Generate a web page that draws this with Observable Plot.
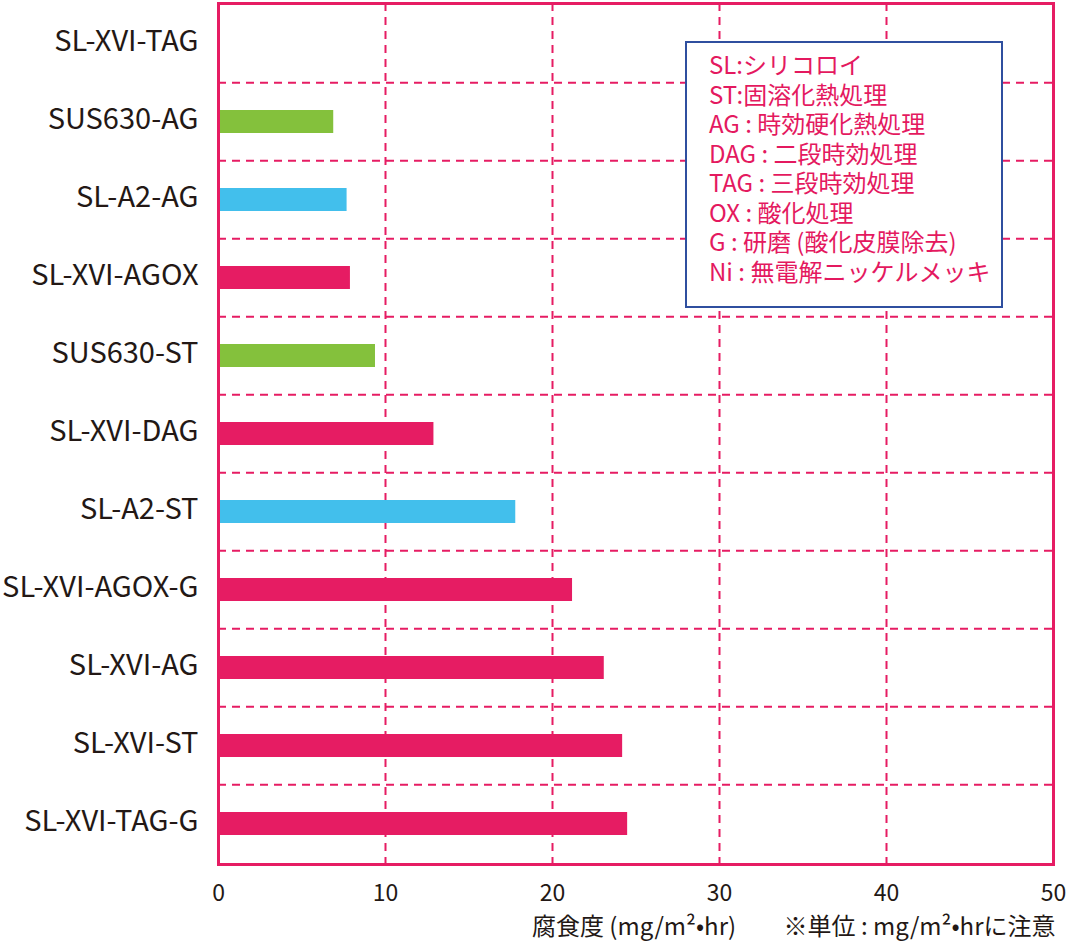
<!DOCTYPE html>
<html>
<head>
<meta charset="utf-8">
<script src="https://cdn.jsdelivr.net/npm/d3@7"></script>
<script src="https://cdn.jsdelivr.net/npm/@observablehq/plot@0.6"></script>
<style>
  html, body { margin: 0; padding: 0; background: #fff; }
  #wrap { position: relative; width: 1069px; height: 950px; }
  #legend {
    position: absolute; left: 685px; top: 41px; width: 318px; height: 267px;
    border: 2px solid #2f4f9f; background: #fff; box-sizing: border-box;
    font-family: "Noto Sans CJK JP", sans-serif; font-size: 24px; line-height: 29.5px;
    color: #e4195f; padding: 6px 0 0 22px;
    white-space: nowrap;
  }
</style>
</head>
<body>
<div id="wrap"></div>
<script>
const categories = ["SL-XVI-TAG","SUS630-AG","SL-A2-AG","SL-XVI-AGOX","SUS630-ST","SL-XVI-DAG","SL-A2-ST","SL-XVI-AGOX-G","SL-XVI-AG","SL-XVI-ST","SL-XVI-TAG-G"];
const values = [0, 6.9, 7.7, 7.9, 9.4, 12.9, 17.8, 21.2, 23.1, 24.2, 24.5];
const materials = ["SL-XVI","SUS630","SL-A2","SL-XVI","SUS630","SL-XVI","SL-A2","SL-XVI","SL-XVI","SL-XVI","SL-XVI"];
const materialDomain = ["SL-XVI","SL-A2","SUS630"];
const materialColors = ["#e61c63","#42bfec","#84c13c"];
const xTicks = [0, 10, 20, 30, 40, 50];
const xTitle = "腐食度 (mg/m²•hr)";
const unitNote = "※単位 : mg/m²•hrに注意";
const legendLines = [
  "SL:シリコロイ",
  "ST:固溶化熱処理",
  "AG : 時効硬化熱処理",
  "DAG : 二段時効処理",
  "TAG : 三段時効処理",
  "OX : 酸化処理",
  "G : 研磨 (酸化皮膜除去)",
  "Ni : 無電解ニッケルメッキ"
];

const data = categories.map((c, i) => ({cat: c, value: values[i], material: materials[i]}));

const W = 1069, H = 950, mT = 3, mB = 86, mL = 218, mR = 16;
const step = (H - mT - mB) / categories.length;
const pink = "#e61c63";
const ink = "#231815";

const chart = Plot.plot({
  width: W, height: H,
  marginLeft: mL, marginRight: mR, marginTop: mT, marginBottom: mB,
  style: {fontFamily: "'Noto Sans CJK JP', sans-serif", color: ink, background: "transparent"},
  x: {domain: [0, 50]},
  y: {domain: categories, paddingInner: 0.7, paddingOuter: 0.35},
  color: {domain: materialDomain, range: materialColors},
  marks: [
    Plot.ruleX(xTicks.slice(1, -1), {stroke: pink, strokeWidth: 2, strokeDasharray: "8,6"}),
    Plot.ruleY(categories.slice(1), {stroke: pink, strokeWidth: 2, strokeDasharray: "8,6", dy: -step / 2}),
    Plot.barX(data, {x: "value", y: "cat", fill: "material"}),
    Plot.frame({stroke: pink, strokeWidth: 3}),
    Plot.axisY({tickSize: 0, tickPadding: 20, fontSize: 29, label: null, fill: ink, dy: -2}),
    Plot.axisX({ticks: xTicks, tickSize: 0, tickPadding: 20, fontSize: 23, label: null, fill: ink}),
    Plot.text([xTitle], {frameAnchor: "bottom", dy: 70, dx: -2, fontSize: 24, fill: ink}),
    Plot.text([unitNote], {frameAnchor: "bottom-right", textAnchor: "end", dy: 70, dx: 2, fontSize: 24, fill: ink})
  ]
});

const wrap = document.getElementById("wrap");
wrap.appendChild(chart);
const legend = document.createElement("div");
legend.id = "legend";
legend.innerHTML = legendLines.map(t => `<div>${t}</div>`).join("");
wrap.appendChild(legend);
</script>
</body>
</html>
